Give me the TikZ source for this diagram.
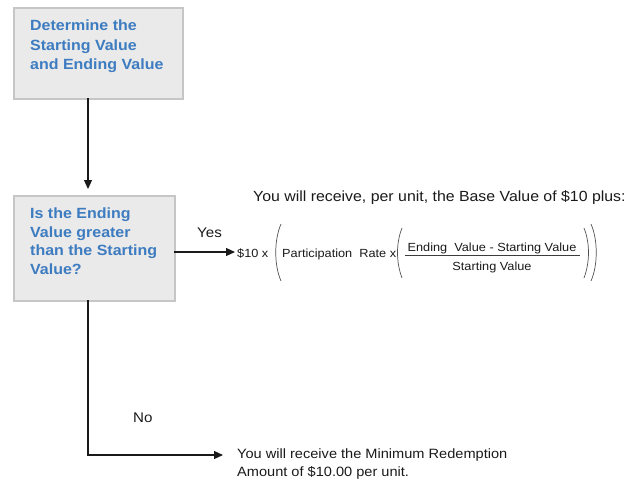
\documentclass[tikz,border=0pt]{standalone}
\usepackage{fontspec}
\setmainfont{Liberation Sans}[FakeStretch=1.08]
\usetikzlibrary{arrows.meta}
\definecolor{boxfill}{HTML}{EAEAEA}
\definecolor{boxline}{HTML}{C6C6C6}
\definecolor{boxtext}{HTML}{3D7CC0}
\definecolor{ink}{HTML}{1A1A1A}
\begin{document}
\begin{tikzpicture}[x=1pt,y=-1pt,
  box/.style={draw=boxline,fill=boxfill,line width=1.5pt,inner sep=0,anchor=north west},
  boxlabel/.style={anchor=north west,inner sep=0,align=left,text=boxtext},
  conn/.style={draw=ink,line width=1.1pt,-{Triangle[length=9pt,width=8pt]}},
  lbl/.style={inner sep=0,text=ink,font=\fontsize{14}{18}\selectfont},
  small/.style={inner sep=0,text=ink,font=\fontsize{11.8}{13}\selectfont},
  paren/.style={draw=ink!75,line width=0.7pt}]
\useasboundingbox (0,0) rectangle (630,483);
% boxes
\node[box,minimum width=169pt,minimum height=91pt] (b1) at (13,7) {};
\node[boxlabel,font=\fontsize{14.8}{19.5}\selectfont\bfseries] (t1) at (30,20) {Determine the\\Starting Value\\and Ending Value};
\node[box,minimum width=161pt,minimum height=105pt] (b2) at (13,195) {};
\node[boxlabel,font=\fontsize{14.8}{18.5}\selectfont\bfseries] (t2) at (30,208) {Is the Ending\\Value greater\\than the Starting\\Value?};
% first connector
\coordinate (d1) at (88,98);
\draw[conn,shorten >=6pt] (d1) -- (d1 |- b2.north);
% header text
\node[lbl,font=\fontsize{14.7}{18}\selectfont,anchor=base west] (h) at (253,201) {You will receive, per unit, the Base Value of \$10 plus:};
% formula
\node[small,anchor=base west] (f0) at (237,257) {\$10 x};
\node[small,anchor=base west] (f1) at (282,257) {Participation\ \ Rate x};
\node[small,anchor=base] (fn) at (492,251) {Ending\ \ Value - Starting Value};
\node[small,anchor=base] (fd) at (492,270) {Starting Value};
\draw[ink!85,line width=0.8pt] (405,255) -- (580,255);
\draw[paren] (281,224) .. controls (274,240) and (274,265) .. (281,281);
\draw[paren] (402,228) .. controls (396,243) and (396,262) .. (402,278);
\draw[paren] (584,228) .. controls (590,243) and (590,262) .. (584,278);
\draw[paren] (591,224) .. controls (598,240) and (598,265) .. (591,281);
% yes connector
\coordinate (y0) at (174,252);
\draw[conn,shorten >=2pt] (y0) -- (y0 -| f0.west);
\node[lbl,anchor=base west] (yes) at (197,237) {Yes};
% no connector
\coordinate (n0) at (88,300);
\coordinate (n1) at (223,455);
\draw[conn] (n0) |- (n1);
\node[lbl,anchor=base west] (no) at (133,422) {No};
\node[lbl,font=\fontsize{13.5}{18}\selectfont,anchor=north west,align=left] (r2) at (237,449) {You will receive the Minimum Redemption\\Amount of \$10.00 per unit.};
\end{tikzpicture}
\end{document}
